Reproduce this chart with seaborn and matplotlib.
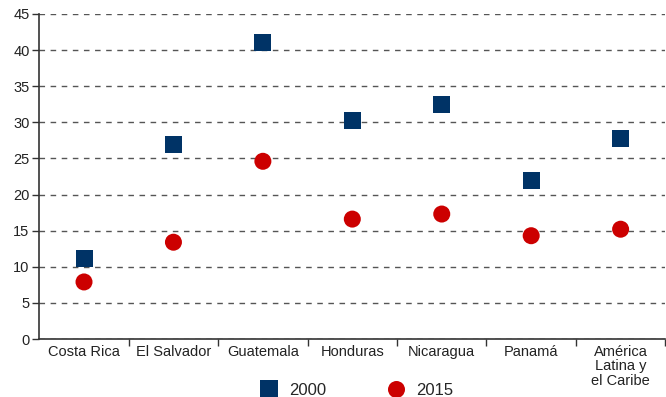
import matplotlib
matplotlib.use("Agg")
import matplotlib.pyplot as plt
import seaborn as sns
import pandas as pd

countries = ["Costa Rica", "El Salvador", "Guatemala", "Honduras", "Nicaragua",
             "Panamá", "América\nLatina y\nel Caribe"]
values_2000 = [11.1, 26.9, 41.0, 30.3, 32.5, 22.0, 27.8]
values_2015 = [7.9, 13.4, 24.6, 16.6, 17.3, 14.3, 15.2]

df = pd.DataFrame({
    "country": countries * 2,
    "value": values_2000 + values_2015,
    "year": ["2000"] * len(countries) + ["2015"] * len(countries),
})

sns.set_style("white")
plt.rcParams["font.family"] = ["Liberation Sans", "DejaVu Sans"]
plt.rcParams["font.size"] = 10.5

fig = plt.figure(figsize=(6.66, 3.97), dpi=100)
ax = fig.add_axes([0.059, 0.146, 0.94, 0.819])

sns.scatterplot(
    data=df, x="country", y="value", hue="year", style="year",
    palette={"2000": "#003366", "2015": "#cc0000"},
    markers={"2000": "s", "2015": "o"},
    s=150, linewidth=0, ax=ax, zorder=3,
)

ax.set_xlim(-0.5, len(countries) - 0.5)
ax.set_ylim(0, 45)
ax.set_yticks(range(0, 50, 5))
ax.yaxis.grid(True, linestyle=(0, (4, 4)), color="#555555", linewidth=1)
ax.set_xlabel("")
ax.set_ylabel("")

ax.set_xticks(range(len(countries)))
ax.set_xticklabels(countries, va="top", linespacing=1.05)
ax.set_xticks([i + 0.5 for i in range(len(countries))], minor=True)
ax.tick_params(axis="x", which="major", bottom=True, length=0, pad=4,
               labelsize=10.5, colors="#222222")
ax.tick_params(axis="x", which="minor", bottom=True, length=5, width=1, color="#333333")
ax.tick_params(axis="y", left=True, length=5, width=1, color="#333333",
               labelsize=10.5, labelcolor="#222222", pad=2)

for side in ["top", "right"]:
    ax.spines[side].set_visible(False)
for side in ["left", "bottom"]:
    ax.spines[side].set_color("#333333")
    ax.spines[side].set_linewidth(1.2)

handles, labels = ax.get_legend_handles_labels()
ax.legend_.remove()
fig.legend(handles, labels, loc="lower center", bbox_to_anchor=(0.53, -0.04),
           ncol=2, frameon=False, fontsize=12, columnspacing=3.2,
           handletextpad=0.2, markerscale=1.0)

fig.savefig("out.png", dpi=100)
